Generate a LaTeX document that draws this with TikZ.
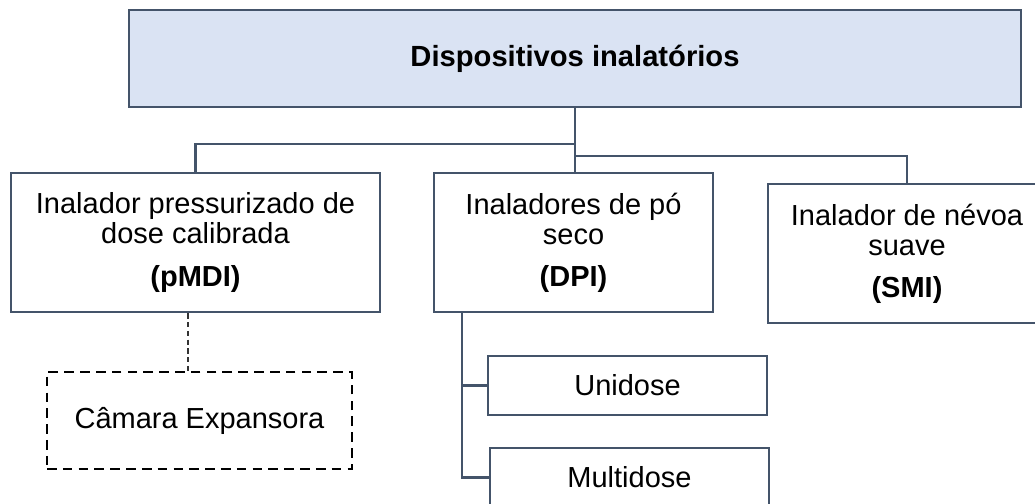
\documentclass[tikz,border=0pt]{standalone}
\usepackage{fontspec}
\setmainfont{Liberation Sans}
\definecolor{EdgeClr}{HTML}{44546A}
\definecolor{HeadClr}{HTML}{DAE3F3}

\begin{document}
\begin{tikzpicture}[
  box/.style={draw=EdgeClr,line width=1.4pt,fill=white,inner sep=0pt,align=center,font=\fontsize{16.5}{17}\selectfont},
  link/.style={draw=EdgeClr,line width=1.4pt},
  dashbox/.style={draw=black,line width=1.1pt,dash pattern=on 5.5pt off 3.5pt,inner sep=0pt,align=center,font=\fontsize{16.5}{17}\selectfont}]

\useasboundingbox (0,0) rectangle (20.7,-10.08);

\node[box,fill=HeadClr,minimum width=17.84cm,minimum height=1.94cm,font=\bfseries\fontsize{16.6}{17}\selectfont] (head) at (11.5,-1.17) {Dispositivos inalatórios};

\node[box,minimum width=7.38cm,minimum height=2.78cm] (pmdi) at (3.91,-4.85) {Inalador pressurizado de\\dose calibrada\\[7pt]\textbf{(pMDI)}};

\node[box,minimum width=5.58cm,minimum height=2.78cm] (dpi) at (11.47,-4.85) {Inaladores de pó\\seco\\[7pt]\textbf{(DPI)}};

\node[box,minimum width=5.56cm,minimum height=2.78cm] (smi) at (18.14,-5.07) {Inalador de névoa\\suave\\[7pt]\textbf{(SMI)}};

\node[dashbox,minimum width=6.1cm,minimum height=1.94cm] (cam) at (3.99,-8.41) {Câmara Expansora};

\node[box,minimum width=5.58cm,minimum height=1.18cm] (uni) at (12.55,-7.71) {Unidose};

\node[box,minimum width=5.58cm,minimum height=1.18cm] (multi) at (12.59,-9.55) {Multidose};

\coordinate (lsplit) at ([yshift=-0.72cm]head.south);
\coordinate (rsplit) at ([yshift=-0.96cm]head.south);

\draw[link] (head.south) -- (head.south |- dpi.north);
\draw[link] (lsplit) -| (pmdi.north);
\draw[link] (rsplit) -| (smi.north);

\coordinate (dpidrop) at ([xshift=0.58cm]dpi.south west);

\draw[link] (dpidrop) |- (uni.west);
\draw[link] (dpidrop) |- (multi.west);

\coordinate (camdrop) at ([xshift=-0.15cm]pmdi.south);

\draw[black!80,line width=0.7pt,dash pattern=on 3pt off 2pt] (camdrop) -- (camdrop |- cam.north);

\end{tikzpicture}
\end{document}
